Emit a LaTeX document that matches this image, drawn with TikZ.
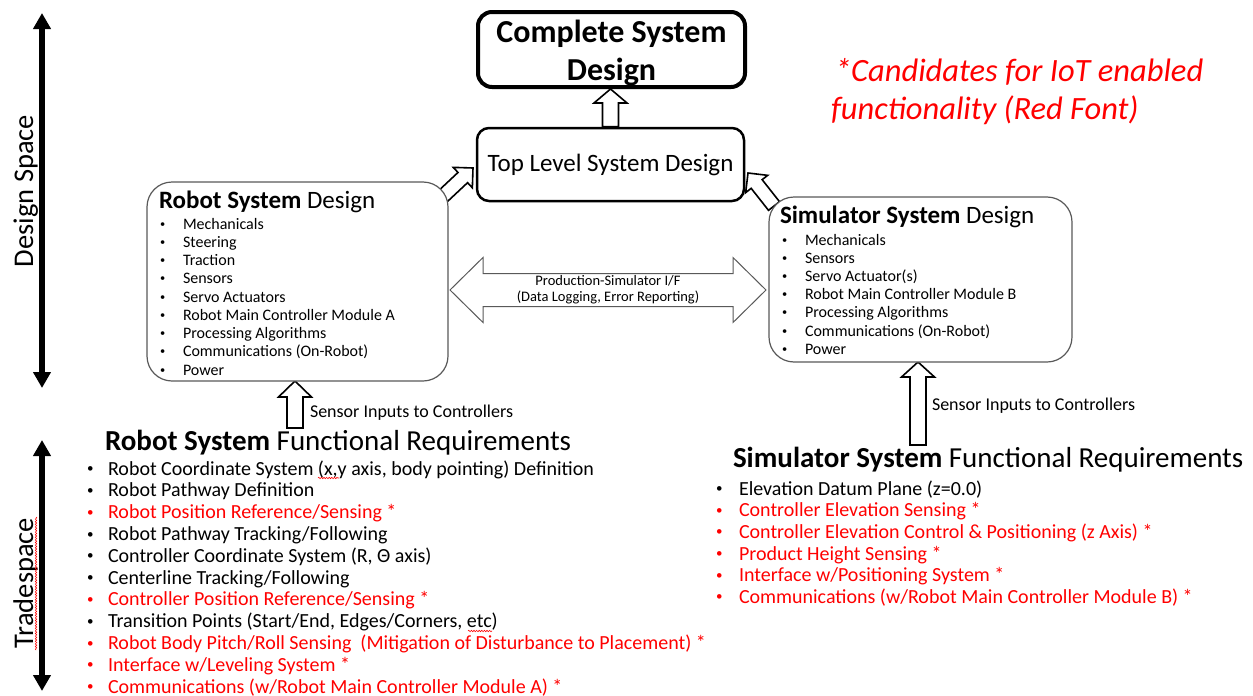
\documentclass[tikz,border=0pt]{standalone}
\usepackage{fontspec}
\setmainfont{Carlito}
\usetikzlibrary{calc,arrows.meta,decorations.pathmorphing}
\pgfdeclarelayer{background}
\pgfsetlayers{background,main}
\definecolor{reqred}{HTML}{FF0000}
\definecolor{boxgray}{HTML}{595959}

% block arrow: style, tail, tip, shaft half width, head half width, head length
\newcommand\blockarrow[6]{%
  \coordinate (bah) at ($(#3)!#6!(#2)$);
  \draw[#1] ($(#2)!#4!90:(#3)$) -- ($(bah)!#4!90:(#3)$) -- ($(bah)!#5!90:(#3)$)
    -- (#3) -- ($(bah)!#5!-90:(#3)$) -- ($(bah)!#4!-90:(#3)$)
    -- ($(#2)!#4!-90:(#3)$) -- cycle;}

% two-headed block arrow: style, left tip, right tip, shaft half, head half, head length
\newcommand\doubleblock[6]{%
  \coordinate (dbl) at ($(#2)!#6!(#3)$);
  \coordinate (dbr) at ($(#3)!#6!(#2)$);
  \draw[#1] (#2) -- ($(dbl)!#5!90:(#3)$) -- ($(dbl)!#4!90:(#3)$)
    -- ($(dbr)!#4!90:(#3)$) -- ($(dbr)!#5!90:(#3)$) -- (#3)
    -- ($(dbr)!#5!-90:(#3)$) -- ($(dbr)!#4!-90:(#3)$)
    -- ($(dbl)!#4!-90:(#3)$) -- ($(dbl)!#5!-90:(#3)$) -- cycle;}

% small list bullet
\newcommand\smallbullet{\raisebox{0.12em}{\scalebox{0.65}{\textbullet}}}

% bulleted line: name, bullet x, baseline y, indent, colour, text
\newcommand\listitem[6]{%
  \node[itemtext, text=#5] (#1) at (#2,#3) {\makebox[#4][l]{\smallbullet}#6};}

\begin{document}
\begin{tikzpicture}[x=1pt,y=-1pt,
  bigbox/.style={draw, line width=4pt, rounded corners=14pt, fill=white,
    minimum width=267pt, minimum height=75pt, inner sep=0pt},
  bigtext/.style={align=center, inner sep=0pt,
    font=\fontsize{32}{38}\selectfont\bfseries},
  midbox/.style={draw, line width=2.5pt, rounded corners=12pt, fill=white,
    minimum width=267pt, minimum height=73pt, inner sep=0pt,
    font=\fontsize{25}{30}\selectfont},
  listbox/.style={draw=boxgray, line width=1.2pt, rounded corners=25pt,
    fill=white, inner sep=0pt},
  itemtext/.style={anchor=base west, inner sep=0pt, outer sep=0pt},
  boxitem/.style={font=\fontsize{16}{18}\selectfont},
  reqitem/.style={font=\fontsize{20}{22}\selectfont},
  blockline/.style={draw=black, line width=1.6pt, fill=white, line join=miter},
  ifline/.style={draw=black!65, line width=1pt, fill=white},
  spacearrow/.style={line width=5.5pt,
    {Triangle[width=17pt,length=16pt]}-{Triangle[width=17pt,length=16pt]}},
  spellmark/.style={draw=reqred, line width=0.6pt, decorate,
    decoration={snake, amplitude=0.7pt, segment length=2.6pt}},
  sidelabel/.style={rotate=90, anchor=base, inner sep=0pt,
    font=\fontsize{28.5}{30}\selectfont},
  notetext/.style={itemtext, text=reqred,
    font=\fontsize{32.5}{39}\selectfont\itshape}]

\useasboundingbox (0,0) rectangle (1253,696);

% ---- space axes ----
\coordinate (dsTop) at (42,13);
\coordinate (dsBot) at (42,388);
\coordinate (tsTop) at (42,440);
\coordinate (tsBot) at (42,691);
\draw[spacearrow] (dsTop) -- (dsBot);
\draw[spacearrow] (tsTop) -- (tsBot);
\node[sidelabel] (dslabel) at (33,191) {Design Space};
\node[sidelabel] (tslabel) at (33,583) {Tradespace};
\draw[spellmark] (36,517) -- (36,650);

% ---- design boxes ----
\node[bigbox] (comp) at (611.5,49.5) {};
\node[bigtext] (comptext) at ($(comp.center)+(0,3.5)$) {Complete System\\Design};
\node[midbox] (top) at (610.5,164.5) {Top Level System Design};
\node[listbox, minimum width=301pt, minimum height=199pt] (rbox) at (297.5,281.5) {};
\node[listbox, minimum width=303pt, minimum height=165pt] (sbox) at (920.5,279.5) {};

% ---- robot design contents ----
\node[itemtext, font=\fontsize{25}{30}\selectfont] (rtitle) at (159,208)
  {\textbf{Robot System} Design};
\begin{scope}[boxitem]
\listitem{r1}{160}{229}{23pt}{black}{Mechanicals}
\listitem{r2}{160}{247.25}{23pt}{black}{Steering}
\listitem{r3}{160}{265.5}{23pt}{black}{Traction}
\listitem{r4}{160}{283.75}{23pt}{black}{Sensors}
\listitem{r5}{160}{302}{23pt}{black}{Servo Actuators}
\listitem{r6}{160}{320.25}{23pt}{black}{Robot Main Controller Module A}
\listitem{r7}{160}{338.5}{23pt}{black}{Processing Algorithms}
\listitem{r8}{160}{356.75}{23pt}{black}{Communications (On-Robot)}
\listitem{r9}{160}{375}{23pt}{black}{Power}
\end{scope}

% ---- simulator design contents ----
\node[itemtext, font=\fontsize{25}{30}\selectfont] (stitle) at (780,223)
  {\textbf{Simulator System} Design};
\begin{scope}[boxitem]
\listitem{s1}{782}{245}{23pt}{black}{Mechanicals}
\listitem{s2}{782}{263.2}{23pt}{black}{Sensors}
\listitem{s3}{782}{281.4}{23pt}{black}{Servo Actuator(s)}
\listitem{s4}{782}{299.6}{23pt}{black}{Robot Main Controller Module B}
\listitem{s5}{782}{317.8}{23pt}{black}{Processing Algorithms}
\listitem{s6}{782}{336}{23pt}{black}{Communications (On-Robot)}
\listitem{s7}{782}{354.2}{23pt}{black}{Power}
\end{scope}

% ---- connecting block arrows ----
\coordinate (rdTail) at (441,198);
\coordinate (rdTip) at (473,168);
\coordinate (sdTail) at (774,206);
\coordinate (sdTip) at (748,173);
\coordinate (ifL) at (450,290);
\coordinate (ifR) at (766,290);
\coordinate (rsTail) at (295,428);
\coordinate (rsTip) at (295,381);
\coordinate (ssTail) at (918,445);
\coordinate (ssTip) at (918,362);
\begin{pgfonlayer}{background}
  \blockarrow{blockline}{top.north}{top.north |- comp.south}{8pt}{16.5pt}{14pt}
  \blockarrow{blockline}{rdTail}{rdTip}{7pt}{14pt}{14pt}
  \blockarrow{blockline}{sdTail}{sdTip}{7pt}{14pt}{14pt}
  \blockarrow{blockline}{rsTail}{rsTip}{8pt}{16.5pt}{16pt}
  \blockarrow{blockline}{ssTail}{ssTip}{8pt}{16.5pt}{15pt}
  \doubleblock{ifline}{ifL}{ifR}{16.5pt}{32.5pt}{33pt}
\end{pgfonlayer}
\node[align=center, inner sep=0pt, font=\fontsize{14.5}{16}\selectfont]
  (iflabel) at ($(ifL)!0.5!(ifR)$)
  {Production-Simulator I/F\\(Data Logging, Error Reporting)};

\node[itemtext, font=\fontsize{18}{20}\selectfont] (rsense) at (310,417)
  {Sensor Inputs to Controllers};
\node[itemtext, font=\fontsize{18}{20}\selectfont] (ssense) at (932,410)
  {Sensor Inputs to Controllers};

% ---- note ----
\node[notetext] (note1) at (835,81) {*Candidates for IoT enabled};
\node[notetext] (note2) at (831,119) {functionality (Red Font)};

% ---- robot functional requirements ----
\node[itemtext, font=\fontsize{29}{32}\selectfont] (rfrtitle) at (105,450)
  {\textbf{Robot System} Functional Requirements};
\begin{scope}[reqitem]
\listitem{f1}{87}{475}{21pt}{black}{Robot Coordinate System (x,y axis, body pointing) Definition}
\listitem{f2}{87}{496.8}{21pt}{black}{Robot Pathway Definition}
\listitem{f3}{87}{518.6}{21pt}{reqred}{Robot Position Reference/Sensing *}
\listitem{f4}{87}{540.4}{21pt}{black}{Robot Pathway Tracking/Following}
\listitem{f5}{87}{562.2}{21pt}{black}{Controller Coordinate System (R, Θ axis)}
\listitem{f6}{87}{584}{21pt}{black}{Centerline Tracking/Following}
\listitem{f7}{87}{605.8}{21pt}{reqred}{Controller Position Reference/Sensing *}
\listitem{f8}{87}{627.6}{21pt}{black}{Transition Points (Start/End, Edges/Corners, etc)}
\listitem{f9}{87}{649.4}{21pt}{reqred}{Robot Body Pitch/Roll Sensing\ \ (Mitigation of Disturbance to Placement) *}
\listitem{f10}{87}{671.2}{21pt}{reqred}{Interface w/Leveling System *}
\listitem{f11}{87}{693}{21pt}{reqred}{Communications (w/Robot Main Controller Module A) *}
\end{scope}
\draw[spellmark] (318,478) -- (339,478);
\draw[spellmark] (468,631) -- (492,631);

% ---- simulator functional requirements ----
\node[itemtext, font=\fontsize{29}{32}\selectfont] (sfrtitle) at (733,467)
  {\textbf{Simulator System} Functional Requirements};
\begin{scope}[reqitem]
\listitem{g1}{716}{495}{23pt}{black}{Elevation Datum Plane (z=0.0)}
\listitem{g2}{716}{516.7}{23pt}{reqred}{Controller Elevation Sensing *}
\listitem{g3}{716}{538.3}{23pt}{reqred}{Controller Elevation Control \& Positioning (z Axis) *}
\listitem{g4}{716}{560}{23pt}{reqred}{Product Height Sensing *}
\listitem{g5}{716}{581.7}{23pt}{reqred}{Interface w/Positioning System *}
\listitem{g6}{716}{603.3}{23pt}{reqred}{Communications (w/Robot Main Controller Module B) *}
\end{scope}
\end{tikzpicture}
\end{document}
